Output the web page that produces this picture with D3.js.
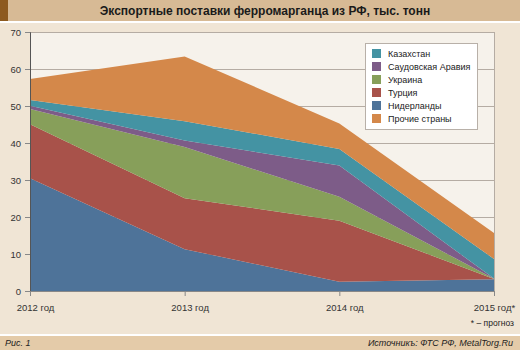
<!DOCTYPE html>
<html><head><meta charset="utf-8">
<script src="https://cdn.jsdelivr.net/npm/d3@7/dist/d3.min.js"></script>
<style>body{margin:0;background:#f0e5d5;}svg{display:block;font-family:"Liberation Sans",Arial,sans-serif;}</style>
</head><body><svg id="c" width="520" height="350"></svg>
<script>
const years = ["2012 год","2013 год","2014 год","2015 год*"];
const netherlands = [30.5, 11.3, 2.5, 3.2];
const turkey      = [14.6, 13.8, 16.5, 0.05];
const ukraine     = [4.1, 13.8, 6.5, 0.05];
const saudi       = [0.9, 1.8, 8.4, 0.05];
const kazakhstan  = [1.5, 5.2, 4.5, 5.3];
const others      = [5.7, 17.5, 6.9, 7.0];
const yTicks = [0,10,20,30,40,50,60,70];
const seriesNames = ["Нидерланды","Турция","Украина","Саудовская Аравия","Казахстан","Прочие страны"];
const seriesColors = ["#4e7399","#a8524a","#879f5a","#7d5c88","#4493a3","#d4884a"];
const legendOrder = ["Казахстан","Саудовская Аравия","Украина","Турция","Нидерланды","Прочие страны"];
const seriesValues = [netherlands,turkey,ukraine,saudi,kazakhstan,others];

const svg = d3.select("#c");
const W=520,H=350;
svg.append("rect").attr("width",W).attr("height",H).attr("fill","#f0e5d5");
// title bar
svg.append("rect").attr("x",0).attr("y",0).attr("width",W).attr("height",21).attr("fill","#d7ba95");
svg.append("rect").attr("x",0).attr("y",0).attr("width",8).attr("height",21).attr("fill","#8d5a1f");
svg.append("rect").attr("x",0).attr("y",21).attr("width",W).attr("height",2).attr("fill","#ffffff");
svg.append("text").attr("x",265).attr("y",15).attr("text-anchor","middle")
  .attr("font-size",12).attr("font-weight","bold").attr("fill","#1a1a1a")
  .text("Экспортные поставки ферромарганца из РФ, тыс. тонн");
// footer
svg.append("rect").attr("x",0).attr("y",334).attr("width",W).attr("height",2).attr("fill","#ffffff");
svg.append("rect").attr("x",0).attr("y",336).attr("width",W).attr("height",14).attr("fill","#e4cba9");
svg.append("text").attr("x",5).attr("y",346).attr("font-size",9).attr("font-style","italic").attr("fill","#222").text("Рис. 1");
svg.append("text").attr("x",513).attr("y",346).attr("text-anchor","end").attr("font-size",9).attr("font-style","italic").attr("fill","#222").text("Источникъ: ФТС РФ, MetalTorg.Ru");
svg.append("text").attr("x",514).attr("y",326).attr("text-anchor","end").attr("font-size",8.5).attr("fill","#222").text("* – прогноз");

const x = d3.scalePoint().domain(years).range([30,494]);
const y = d3.scaleLinear().domain([0,70]).range([291,32]);

svg.append("rect").attr("x",30).attr("y",32).attr("width",464).attr("height",259).attr("fill","#f6f2eb");
// grid
svg.append("g").selectAll("line").data(yTicks.slice(1)).join("line")
  .attr("x1",30).attr("x2",494).attr("y1",d=>y(d)).attr("y2",d=>y(d))
  .attr("stroke","#b5aca3").attr("stroke-width",1).attr("shape-rendering","crispEdges");

const table = years.map((yr,i)=>{const o={year:yr}; seriesNames.forEach((n,j)=>o[n]=seriesValues[j][i]); return o;});
const stack = d3.stack().keys(seriesNames)(table);
const area = d3.area().x(d=>x(d.data.year)).y0(d=>y(d[0])).y1(d=>y(d[1]));
svg.append("g").selectAll("path").data(stack).join("path")
  .attr("d",area).attr("fill",(d,i)=>seriesColors[i]);

// right border
svg.append("line").attr("x1",494).attr("x2",494).attr("y1",32).attr("y2",291).attr("stroke","#b5aca3").attr("shape-rendering","crispEdges");

// axes
const yAxis = d3.axisLeft(y).tickValues(yTicks).tickSize(5).tickPadding(4);
const gy = svg.append("g").attr("transform","translate(30,0)").call(yAxis);
gy.select(".domain").attr("stroke","#555");
gy.selectAll(".tick line").attr("stroke","#888");
gy.selectAll("text").attr("font-size",9.5).attr("fill","#333").attr("font-family","Liberation Sans, Arial, sans-serif");

const xAxis = d3.axisBottom(x).tickSize(5).tickPadding(8);
const gx = svg.append("g").attr("transform","translate(0,291)").call(xAxis);
gx.select(".domain").attr("stroke","#888");
gx.selectAll(".tick line").attr("stroke","#888");
gx.selectAll("text").attr("font-size",9.5).attr("fill","#333").attr("dx",(d,i)=>i===3?0:5)
  .attr("font-family","Liberation Sans, Arial, sans-serif");

// legend
const lg = svg.append("g");
lg.append("rect").attr("x",365.5).attr("y",43.5).attr("width",112).attr("height",86)
  .attr("fill","#ffffff").attr("stroke","#b8b0a8");
legendOrder.forEach((n,i)=>{
  const c = seriesColors[seriesNames.indexOf(n)];
  lg.append("rect").attr("x",372).attr("y",49+i*13).attr("width",9).attr("height",9).attr("fill",c);
  lg.append("text").attr("x",388).attr("y",57+i*13).attr("font-size",9).attr("fill","#222").text(n);
});
</script></body></html>
